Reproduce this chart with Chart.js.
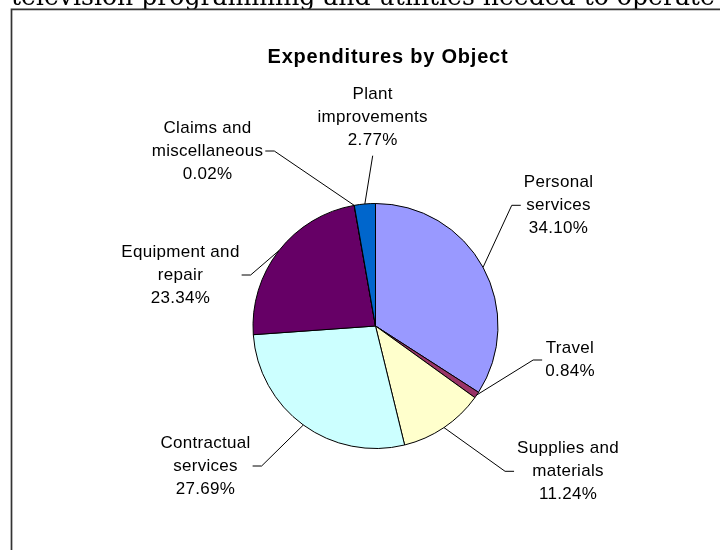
<!DOCTYPE html>
<html><head><meta charset="utf-8">
<script src="https://cdn.jsdelivr.net/npm/chart.js@4/dist/chart.umd.min.js"></script>
<style>html,body{margin:0;padding:0;background:#fff;}canvas{display:block;}</style>
</head><body>
<canvas id="c" width="720" height="550"></canvas>
<script>
// ---- data ----
const categories = [
  ["Personal", "services"],
  ["Travel"],
  ["Supplies and", "materials"],
  ["Contractual", "services"],
  ["Equipment and", "repair"],
  ["Claims and", "miscellaneous"],
  ["Plant", "improvements"]
];
const shares = [34.10, 0.84, 11.24, 27.69, 23.34, 0.02, 2.77];
const sliceColors = ["#9999FF", "#993366", "#FFFFCC", "#CCFFFF", "#660066", "#FF8080", "#0066CC"];
const chartTitle = "Expenditures by Object";
const pageText = "television programming and utilities needed to operate";

// ---- label layout (offset of label block centre from pie centre; side where leader meets it) ----
const labelLayout = [
  {dx: 183,   dy: -120.7, side: "left"},
  {dx: 194.5, dy: 34,     side: "left"},
  {dx: 192.5, dy: 145.3,  side: "left"},
  {dx: -170,  dy: 140,    side: "right"},
  {dx: -195,  dy: -51,    side: "right"},
  {dx: -168,  dy: -175,   side: "right"},
  {dx: -2.8,  dy: -208.3, side: "bottom"}
];

const SANS = '"Liberation Sans", Arial, Helvetica, sans-serif';

const decor = {
  id: "decor",
  beforeDraw(chart) {
    const ctx = chart.ctx;
    ctx.save();
    ctx.fillStyle = "#fff";
    ctx.fillRect(0, 0, chart.width, chart.height);
    // page text (cut off at top)
    ctx.fillStyle = "#000";
    ctx.font = '20px "DejaVu Serif", serif';
    const w20 = ctx.measureText(pageText).width;
    const fs = 20 * 704 / w20;
    ctx.font = fs.toFixed(2) + 'px "DejaVu Serif", serif';
    ctx.textAlign = "left";
    ctx.textBaseline = "alphabetic";
    ctx.fillText(pageText, 11, 5);
    // frame
    ctx.strokeStyle = "#333";
    ctx.lineWidth = 1.7;
    ctx.beginPath();
    ctx.moveTo(11.5, 552);
    ctx.lineTo(11.5, 9.3);
    ctx.lineTo(722, 9.3);
    ctx.stroke();
    // title
    ctx.fillStyle = "#000";
    ctx.font = "bold 20px " + SANS;
    try { ctx.letterSpacing = "0.8px"; } catch (e) {}
    ctx.textAlign = "center";
    ctx.textBaseline = "middle";
    ctx.fillText(chartTitle, 388, 57);
    try { ctx.letterSpacing = "0px"; } catch (e) {}
    ctx.restore();
  },
  afterDatasetsDraw(chart) {
    const ctx = chart.ctx;
    const meta = chart.getDatasetMeta(0);
    ctx.save();
    ctx.fillStyle = "#000";
    ctx.strokeStyle = "#000";
    ctx.lineWidth = 1;
    ctx.font = "17px " + SANS;
    try { ctx.letterSpacing = "0.3px"; } catch (e) {}
    ctx.textAlign = "center";
    ctx.textBaseline = "middle";
    const lh = 23;
    meta.data.forEach((arc, i) => {
      const p = arc.getProps(["x", "y", "startAngle", "endAngle", "outerRadius"], true);
      const mid = (p.startAngle + p.endAngle) / 2;
      const ex = p.x + Math.cos(mid) * p.outerRadius;
      const ey = p.y + Math.sin(mid) * p.outerRadius;
      const lines = categories[i].concat([shares[i].toFixed(2) + "%"]);
      const L = labelLayout[i];
      const cx = p.x + L.dx, cy = p.y + L.dy;
      const w = Math.max(...lines.map(s => ctx.measureText(s).width));
      lines.forEach((s, k) => ctx.fillText(s, cx, cy + (k - (lines.length - 1) / 2) * lh));
      ctx.beginPath();
      if (L.side === "left") {
        const ax = cx - w / 2 - 3;
        ctx.moveTo(ax, cy); ctx.lineTo(ax - 9, cy); ctx.lineTo(ex, ey);
      } else if (L.side === "right") {
        const ax = cx + w / 2 + 2;
        ctx.moveTo(ax, cy); ctx.lineTo(ax + 9, cy); ctx.lineTo(ex, ey);
      } else {
        const ay = cy + ((lines.length - 1) / 2) * lh + 15;
        ctx.moveTo(cx, ay); ctx.lineTo(ex, ey);
      }
      ctx.stroke();
    });
    ctx.restore();
  }
};

new Chart(document.getElementById("c"), {
  type: "pie",
  data: {
    labels: categories.map(c => c.join(" ")),
    datasets: [{
      data: shares,
      backgroundColor: sliceColors,
      borderColor: "#000",
      borderWidth: 1
    }]
  },
  options: {
    responsive: false,
    devicePixelRatio: 1,
    animation: false,
    layout: {padding: {left: 252.5, right: 221.5, top: 203, bottom: 101}},
    plugins: {legend: {display: false}, tooltip: {enabled: false}, title: {display: false}}
  },
  plugins: [decor]
});
</script>
</body></html>
